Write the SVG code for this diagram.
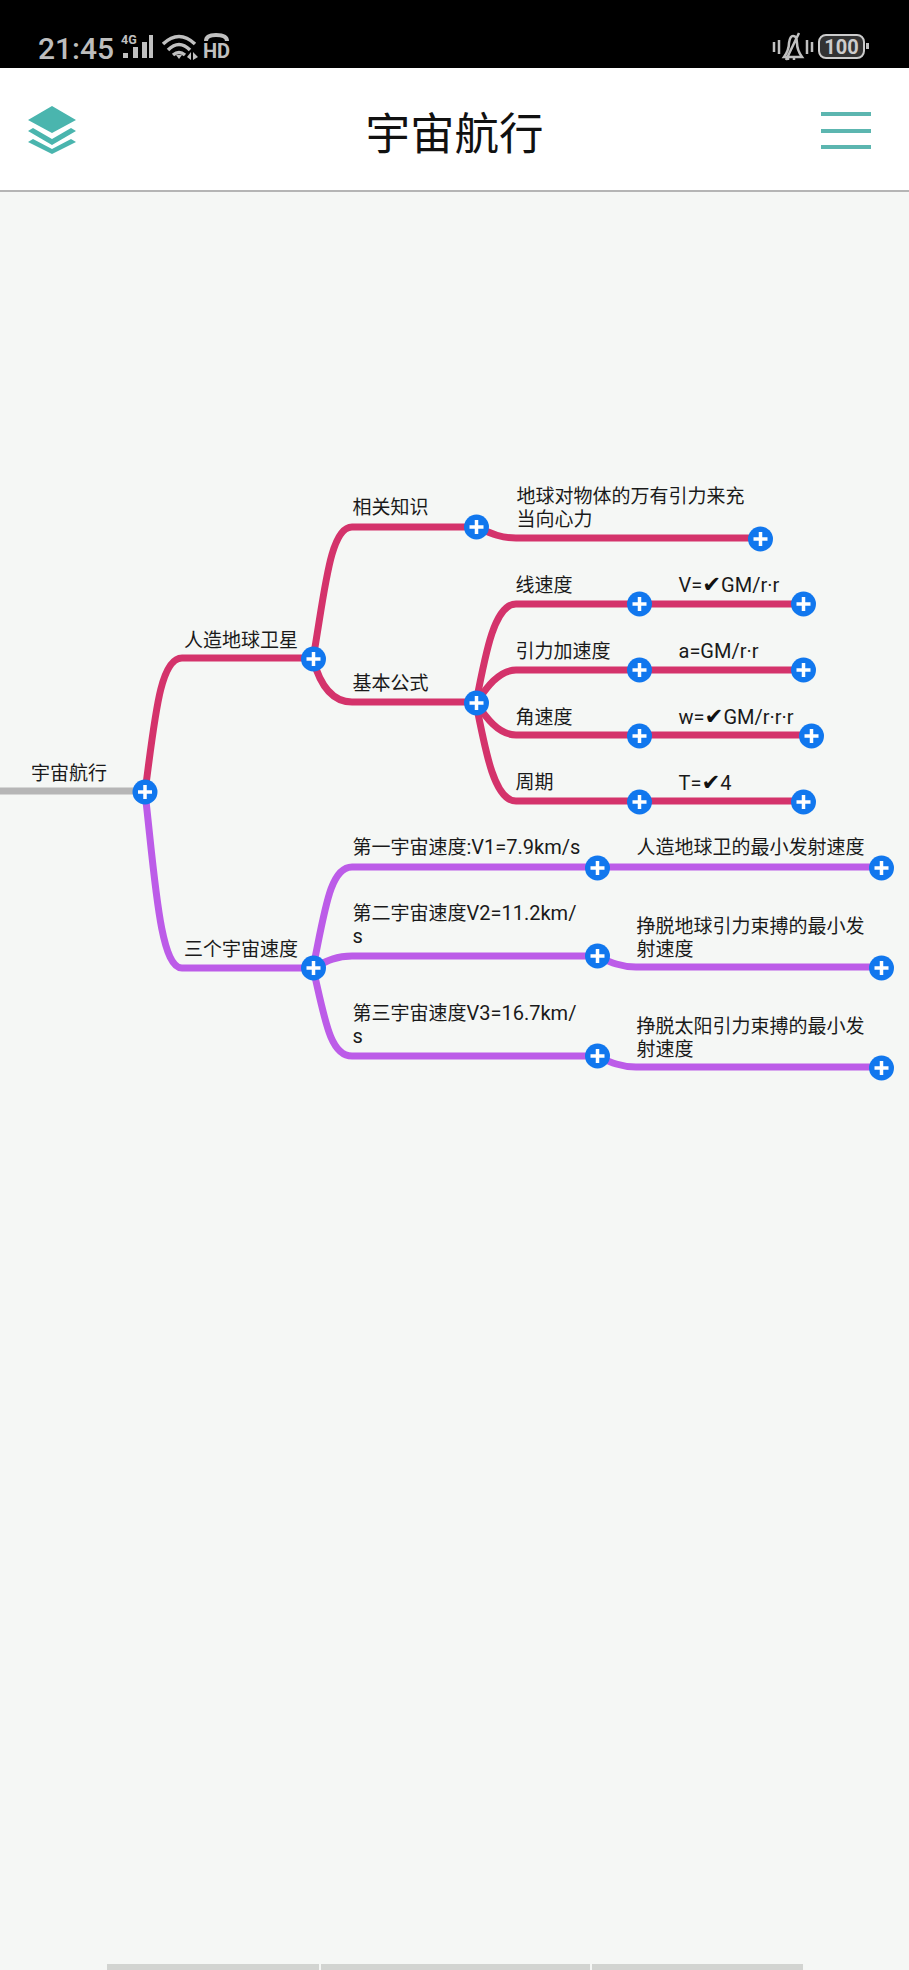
<svg xmlns="http://www.w3.org/2000/svg" width="909" height="1970" viewBox="0 0 909 1970">
<style>
text{font-family:"Roboto","Noto Sans CJK SC",sans-serif;font-size:19px;fill:#1a1a1a}
.l{font-size:20px}
.k{font-family:"DejaVu Sans",sans-serif;font-size:22.500px;font-style:italic;fill:#111}
.ln{fill:none;stroke-width:7;stroke-linecap:butt}
.p{stroke:#d4336b}.u{stroke:#bc5ce8}.g{stroke:#b6b6b6}
.c{fill:#1177ee}
.w{stroke:#fff;stroke-width:3.500;fill:none}
.s{fill:#c0c0c0}
.sl{stroke:#c0c0c0;fill:none}
.t{fill:#4ab5ae}
.h{stroke:#5cb6b0;stroke-width:4}
</style>
<defs>
<g id="plus"><circle r="12.500" class="c"/><path class="w" d="M-7 0H7M0-7V7"/></g>
</defs>
<rect width="909" height="1970" fill="#f5f7f5"/>
<g id="status-bar">
<rect width="909" height="68" fill="#000"/>
<text x="38" y="59" style="font-size:30px;font-weight:500;fill:#bdbdbd">21:45</text>
<text x="121" y="44" style="font-size:12.500px;font-weight:700;fill:#c0c0c0">4G</text>
<rect class="s" x="123" y="53" width="5" height="5"/><rect class="s" x="133" y="47" width="5" height="11"/><rect class="s" x="142" y="42" width="5" height="16"/><rect class="s" x="149" y="35" width="4" height="23"/>
<path class="sl" stroke-width="3.500" d="M163 44Q179 29 195 44M168 50Q179 39 190 50M173 55Q179 50 185 55"/>
<path class="s" d="M176 55L179 59 182 55ZM187 57L191 52V60ZM193 52L198 57 193 60Z"/>
<path class="sl" stroke-width="4" d="M206 41Q206 35 216 35Q227 35 227 41"/>
<text x="203" y="58" style="font-size:20px;font-weight:700;fill:#c0c0c0">HD</text>
<path class="sl" stroke-width="2.500" d="M774 42V52M779 40V54M807 40V54M812 42V52M784 57Q789 50 789 43Q790 36 793 36Q797 36 797 43Q797 50 802 57ZM786 60L799 33M788 58V60M794 58V60"/>
<rect x="819" y="35" width="45" height="23" rx="7" fill="#333" stroke="#ccc" stroke-width="2"/>
<text x="841.500" y="54" text-anchor="middle" style="font-size:20px;font-weight:700;fill:#ccc">100</text>
<rect class="s" x="866" y="43" width="3" height="6"/>
</g>
<g id="header">
<rect y="68" width="909" height="122" fill="#fff"/>
<rect y="190" width="909" height="2" fill="#b5b5b5"/>
<path class="t" d="M52 106L76 120 52 133 28 120ZM28 131L33 128 52 139 71 128 76 131 52 145ZM28 142L33 139 52 149 71 139 76 142 52 154Z"/>
<text x="454.500" y="150" text-anchor="middle" style="font-size:44.500px;fill:#111">宇宙航行</text>
<path class="h" d="M821 114H871M821 131H871M821 147H871"/>
</g>
<g id="connectors">
<path class="ln g" d="M0 791H145"/>
<path class="ln p" d="M145 792C155 717 160 658 182 658H313"/>
<path class="ln u" d="M145 792C155 880 160 968 182 968H313"/>
<path class="ln p" d="M313 659C325 590 330 527 352 527H476"/>
<path class="ln p" d="M313 659C320 685 332 702 352 702H476"/>
<path class="ln p" d="M476 527C490 533 500 538 516 538H760"/>
<path class="ln p" d="M476 703C486 650 495 604 516 604H803"/>
<path class="ln p" d="M476 703C485 690 498 670 516 670H803"/>
<path class="ln p" d="M476 703C485 716 498 735 516 735H811"/>
<path class="ln p" d="M476 703C486 755 495 801 516 801H803"/>
<path class="ln u" d="M313 968C325 910 330 867 352 867H881"/>
<path class="ln u" d="M313 968C325 962 335 956 352 956H597"/>
<path class="ln u" d="M313 968C325 1020 330 1056 352 1056H597"/>
<path class="ln u" d="M597 956C610 962 620 967 636 967H881"/>
<path class="ln u" d="M597 1056C610 1062 620 1067 636 1067H881"/>
</g>
<g id="node-root"><text x="31" y="780">宇宙航行</text><use href="#plus" x="145" y="792"/></g>
<g id="node-satellite"><text x="184" y="647">人造地球卫星</text><use href="#plus" x="313.500" y="659"/></g>
<g id="node-speeds"><text x="184" y="956">三个宇宙速度</text><use href="#plus" x="313.500" y="968"/></g>
<g id="node-related"><text x="352.500" y="514">相关知识</text><use href="#plus" x="476.500" y="527"/></g>
<g id="node-formula"><text x="352.500" y="690">基本公式</text><use href="#plus" x="476.500" y="703"/></g>
<g id="node-gravity"><text x="516.500" y="503">地球对物体的万有引力来充</text><text x="516.500" y="526">当向心力</text><use href="#plus" x="760.500" y="539"/></g>
<g id="node-v"><text x="515.500" y="592">线速度</text><use href="#plus" x="639.500" y="604"/></g>
<g id="node-v-f"><text x="678.500" y="592"><tspan class="l">V=</tspan><tspan class="k">✔</tspan><tspan class="l">GM/r·r</tspan></text><use href="#plus" x="803.500" y="604"/></g>
<g id="node-a"><text x="515.500" y="658">引力加速度</text><use href="#plus" x="639.500" y="670"/></g>
<g id="node-a-f"><text x="678.500" y="658"><tspan class="l">a=GM/r·r</tspan></text><use href="#plus" x="803.500" y="670"/></g>
<g id="node-w"><text x="515.500" y="724">角速度</text><use href="#plus" x="639.500" y="736"/></g>
<g id="node-w-f"><text x="678.500" y="724"><tspan class="l">w=</tspan><tspan class="k">✔</tspan><tspan class="l">GM/r·r·r</tspan></text><use href="#plus" x="811.500" y="736"/></g>
<g id="node-t"><text x="515.500" y="789">周期</text><use href="#plus" x="639.500" y="802"/></g>
<g id="node-t-f"><text x="678.500" y="790"><tspan class="l">T=</tspan><tspan class="k">✔</tspan><tspan class="l">4</tspan></text><use href="#plus" x="803.500" y="802"/></g>
<g id="node-v1"><text x="352.500" y="854">第一宇宙速度<tspan class="l">:V1=7.9km/s</tspan></text><use href="#plus" x="597.500" y="868"/></g>
<g id="node-v1-d"><text x="636.500" y="854">人造地球卫的最小发射速度</text><use href="#plus" x="881.500" y="868"/></g>
<g id="node-v2"><text x="352.500" y="920">第二宇宙速度<tspan class="l">V2=11.2km/</tspan></text><text x="352.500" y="943" class="l">s</text><use href="#plus" x="597.500" y="956"/></g>
<g id="node-v2-d"><text x="636.500" y="933">挣脱地球引力束搏的最小发</text><text x="636.500" y="956">射速度</text><use href="#plus" x="881.500" y="968"/></g>
<g id="node-v3"><text x="352.500" y="1020">第三宇宙速度<tspan class="l">V3=16.7km/</tspan></text><text x="352.500" y="1043" class="l">s</text><use href="#plus" x="597.500" y="1056"/></g>
<g id="node-v3-d"><text x="636.500" y="1033">挣脱太阳引力束搏的最小发</text><text x="636.500" y="1056">射速度</text><use href="#plus" x="881.500" y="1068"/></g>
<g id="tabs" fill="#d2d4d1"><rect x="107" y="1964" width="212" height="6"/><rect x="321" y="1964" width="269" height="6"/><rect x="592" y="1964" width="211" height="6"/></g>
</svg>
